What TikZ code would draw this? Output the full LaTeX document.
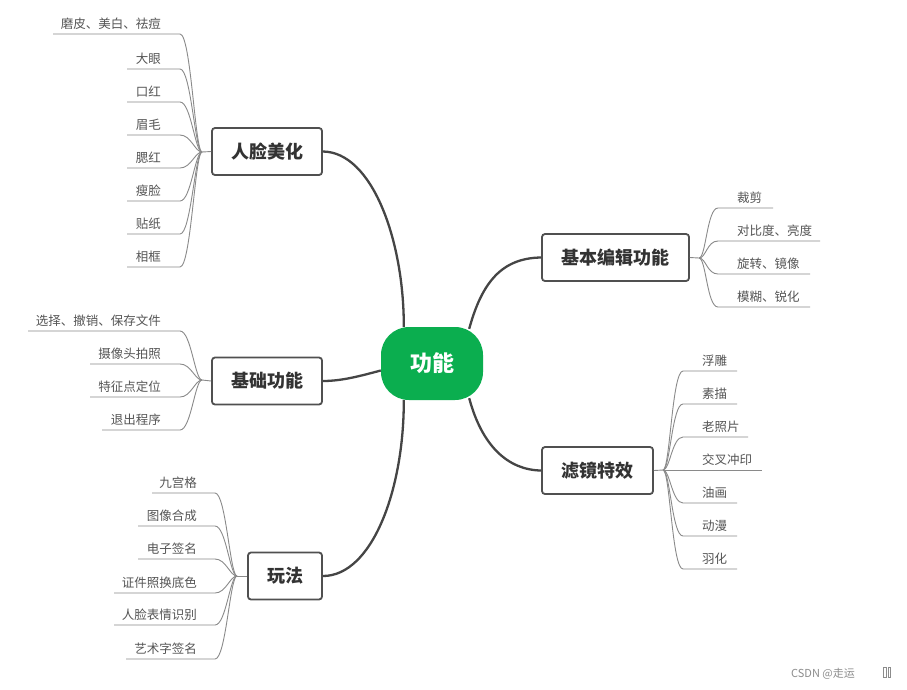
\documentclass[tikz,border=0pt]{standalone}
\usepackage{fontspec}
\setmainfont{Noto Sans CJK SC}
\usetikzlibrary{calc}
\definecolor{mgreen}{HTML}{0BAE4F}
\definecolor{boxline}{HTML}{505050}
\definecolor{mainline}{HTML}{454545}
\definecolor{leafline}{HTML}{8A8A8A}
\definecolor{leaftext}{HTML}{555555}
\tikzset{
  centerbox/.style={fill=mgreen, draw=none, rounded corners=28pt, minimum width=102pt, minimum height=73pt, inner sep=0pt, text=white, font=\fontsize{22}{24}\selectfont\bfseries},
  topicbox/.style={draw=boxline, line width=1.8pt, fill=white, rounded corners=3pt, minimum height=47pt, inner sep=0pt, text=black!80, font=\fontsize{18}{20}\selectfont\bfseries},
  mainconn/.style={draw=mainline, line width=2.3pt},
  leafconn/.style={draw=leafline, line width=0.9pt},
  leaftxt/.style={text=leaftext, inner sep=0pt, font=\fontsize{12.5}{14}\selectfont},
  wm/.style={text=black!45, inner sep=0pt, font=\fontsize{11}{13}\selectfont}
}
% left leaf: #1 name, #2 text, #3 underline y, #4 text right x, #5 line left x, #6 curve start x, #7 hub
\newcommand\lfL[7]{%
  \node[leaftxt, anchor=base east] (#1) at (#4,#3-6) {#2};
  \coordinate (#1e) at (#5,#3);
  \draw[leafconn] (#7) .. controls ($(#7)+(-7,0)$) and (#6+11,#3) .. (#6,#3) -- (#1e);
}
% right leaf: #1 name, #2 text, #3 underline y, #4 text left x, #5 line right x, #6 curve start x, #7 hub
\newcommand\lfR[7]{%
  \node[leaftxt, anchor=base west] (#1) at (#4,#3-6) {#2};
  \coordinate (#1e) at (#5,#3);
  \draw[leafconn] (#7) .. controls ($(#7)+(7,0)$) and (#6-11,#3) .. (#6,#3) -- (#1e);
}
\begin{document}
\begin{tikzpicture}[x=1pt,y=-1pt]
\useasboundingbox (0,0) rectangle (907,689);
\fill[white] (0,0) rectangle (907,689);

% main nodes
\node[centerbox] (c) at (432,363.5) {功能};
\node[topicbox, minimum width=110pt] (t1) at (267,151.5) {人脸美化};
\node[topicbox, minimum width=110pt] (t2) at (267,381) {基础功能};
\node[topicbox, minimum width=74pt] (t3) at (285,576) {玩法};
\node[topicbox, minimum width=147pt] (t4) at (615.5,257.5) {基本编辑功能};
\node[topicbox, minimum width=111pt] (t5) at (597.5,470.5) {滤镜特效};

% main connectors
\coordinate (c1) at ($(c.north west)+(23,0)$);
\coordinate (c2) at ($(c.west)+(0,7)$);
\coordinate (c3) at ($(c.south west)+(23,0)$);
\coordinate (c4) at ($(c.north east)+(-14,2)$);
\coordinate (c5) at ($(c.south east)+(-14,-2)$);
\draw[mainconn] (c1) .. controls (404,240) and (372,152) .. (t1.east);
\draw[mainconn] (c2) .. controls (360,376) and (342,381) .. (t2.east);
\draw[mainconn] (c3) .. controls (404,490) and (372,576) .. (t3.east);
\draw[mainconn] (c4) .. controls (482,282) and (502,258) .. (t4.west);
\draw[mainconn] (c5) .. controls (482,446) and (508,470) .. (t5.west);

% hubs
\coordinate (h1) at (202,152);
\coordinate (h2) at (202,380);
\coordinate (h3) at (237,576);
\coordinate (h4) at (699,258);
\coordinate (h5) at (663,470);
\draw[leafconn] (t1.west) -- (h1);
\draw[leafconn] (t2.west) -- (h2);
\draw[leafconn] (t3.west) -- (h3);
\draw[leafconn] (t4.east) -- (h4);
\draw[leafconn] (t5.east) -- (h5);

% 人脸美化
\lfL{a1}{磨皮、美白、祛痘}{34}{161}{53}{180}{h1}
\lfL{a2}{大眼}{69}{161}{127}{180}{h1}
\lfL{a3}{口红}{102}{161}{127}{180}{h1}
\lfL{a4}{眉毛}{135}{161}{127}{180}{h1}
\lfL{a5}{腮红}{168}{161}{127}{180}{h1}
\lfL{a6}{瘦脸}{201}{161}{127}{180}{h1}
\lfL{a7}{贴纸}{234}{161}{127}{180}{h1}
\lfL{a8}{相框}{267}{161}{127}{180}{h1}

% 基础功能
\lfL{b1}{选择、撤销、保存文件}{331}{161}{28}{180}{h2}
\lfL{b2}{摄像头拍照}{364}{161}{90}{180}{h2}
\lfL{b3}{特征点定位}{397}{161}{90}{180}{h2}
\lfL{b4}{退出程序}{430}{161}{102}{180}{h2}

% 玩法
\lfL{p1}{九宫格}{493}{197}{152}{215}{h3}
\lfL{p2}{图像合成}{526}{197}{138}{215}{h3}
\lfL{p3}{电子签名}{559}{197}{138}{215}{h3}
\lfL{p4}{证件照换底色}{593}{197}{114}{215}{h3}
\lfL{p5}{人脸表情识别}{625}{197}{114}{215}{h3}
\lfL{p6}{艺术字签名}{659}{197}{126}{215}{h3}

% 基本编辑功能
\lfR{e1}{裁剪}{208}{737}{773}{718}{h4}
\lfR{e2}{对比度、亮度}{241}{737}{820}{718}{h4}
\lfR{e3}{旋转、镜像}{274}{737}{810}{718}{h4}
\lfR{e4}{模糊、锐化}{307}{737}{810}{718}{h4}

% 滤镜特效
\lfR{f1}{浮雕}{371}{702}{737}{683}{h5}
\lfR{f2}{素描}{404}{702}{737}{683}{h5}
\lfR{f3}{老照片}{437}{702}{748}{683}{h5}
\node[leaftxt, anchor=base west] (f4) at (702,464) {交叉冲印};
\coordinate (f4e) at (762,470);
\draw[leafconn] (h5) -- (f4e);
\lfR{f5}{油画}{503}{702}{737}{683}{h5}
\lfR{f6}{动漫}{536}{702}{737}{683}{h5}
\lfR{f7}{羽化}{569}{702}{737}{683}{h5}

% watermark
\node[wm, anchor=base west] (wm) at (791,677) {CSDN @走运};
\draw[black!45, line width=0.6pt] (883.5,667) rectangle (886,677) (888,667) rectangle (890.5,677);
\end{tikzpicture}
\end{document}
